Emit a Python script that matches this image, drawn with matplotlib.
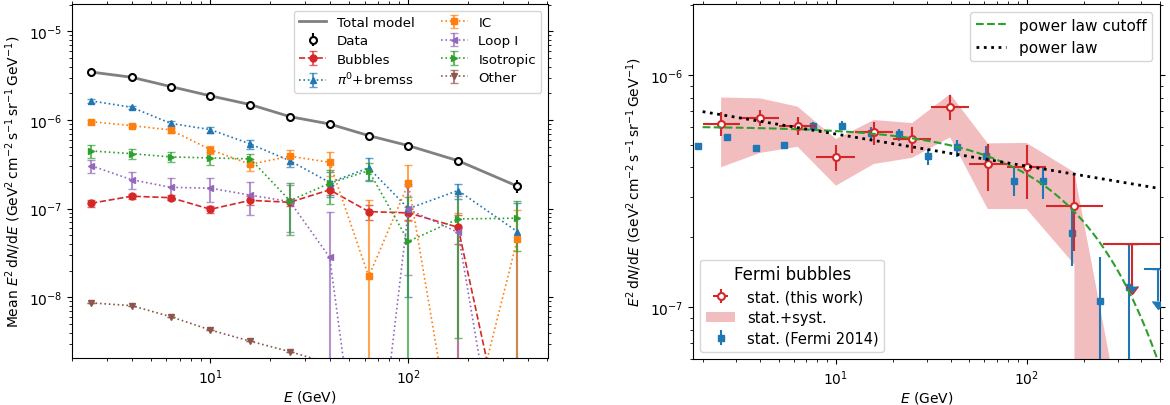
import numpy as np
import matplotlib as mpl
mpl.use("Agg")
import matplotlib.pyplot as plt
from matplotlib.colors import to_rgba
from matplotlib.patches import Patch

mpl.rcParams.update({"font.family": "DejaVu Sans", "font.size": 10})

# ---- left panel: template fit components ----
E = [2.5, 4.0, 6.3, 10.0, 15.9, 25.2, 40.0, 63.0, 100.0, 178.0, 355.0]
TOTAL = [3.47e-6, 3.03e-6, 2.38e-6, 1.87e-6, 1.49e-6, 1.09e-6, 9.0e-7, 6.66e-7, 5.13e-7, 3.47e-7, 1.79e-7]
DATA = [3.47e-6, 3.03e-6, 2.38e-6, 1.87e-6, 1.49e-6, 1.09e-6, 9.0e-7, 6.66e-7, 5.13e-7, 3.47e-7, 1.79e-7]
DATA_ERR = [3e-8, 3e-8, 2e-8, 1.5e-8, 1.2e-8, 1e-8, 9e-9, 8e-9, 8e-9, 1.2e-8, 3e-8]

BUBBLES = [1.15e-7, 1.38e-7, 1.33e-7, 9.84e-8, 1.24e-7, 1.18e-7, 1.63e-7, 9.26e-8, 8.95e-8, 6.17e-8, 5e-11]
BUBBLES_ERR = [1e-8, 8e-9, 8e-9, 1e-8, 1.5e-8, 1.2e-8, 2e-8, 1.8e-8, 1.6e-8, 2.2e-8, 0]
PI0 = [1.64e-6, 1.39e-6, 9.15e-7, 7.78e-7, 5.36e-7, 3.47e-7, 1.97e-7, 2.88e-7, 1.0e-7, 1.6e-7, 5.5e-8]
PI0_ERR = [7e-8, 6e-8, 6e-8, 6e-8, 6e-8, 5e-8, 6e-8, 8.5e-8, 9e-8, 3.2e-8, 6e-8]
IC = [9.57e-7, 8.63e-7, 7.71e-7, 4.63e-7, 3.16e-7, 3.9e-7, 3.33e-7, 1.72e-8, 1.93e-7, 1e-10, 4.57e-8]
IC_ERR = [5e-8, 4e-8, 5e-8, 4.5e-8, 5e-8, 7e-8, 1e-7, 1.08e-7, 1.2e-7, 9e-8, 5e-8]
LOOP = [3.05e-7, 2.12e-7, 1.74e-7, 1.7e-7, 1.42e-7, 1.2e-7, 2.83e-8, 1.5e-11, 9.8e-8, 5.4e-8, 6e-12]
LOOP_ERR = [5e-8, 4.5e-8, 5e-8, 5e-8, 5.7e-8, 6.5e-8, 6.4e-8, 0, 8e-8, 8.6e-8, 0]
ISO = [4.47e-7, 4.17e-7, 3.83e-7, 3.73e-7, 3.64e-7, 1.23e-7, 1.93e-7, 2.68e-7, 4.28e-8, 7.65e-8, 7.8e-8]
ISO_ERR = [7e-8, 5e-8, 5e-8, 6e-8, 5e-8, 7.2e-8, 8e-8, 5.6e-8, 9.2e-8, 7.3e-8, 4.5e-8]
OTHER = [8.65e-9, 8.06e-9, 6.05e-9, 4.28e-9, 3.2e-9, 2.44e-9, 1.8e-9, 1.26e-9, 9e-10, 6.3e-10, 4e-10]
OTHER_ERR = [0] * 11

COMPONENTS = [
    ("Bubbles", BUBBLES, BUBBLES_ERR, "o", "--", "tab:red"),
    (r"$\pi^0$+bremss", PI0, PI0_ERR, "^", ":", "tab:blue"),
    ("IC", IC, IC_ERR, "s", ":", "tab:orange"),
    ("Loop I", LOOP, LOOP_ERR, "<", ":", "tab:purple"),
    ("Isotropic", ISO, ISO_ERR, ">", ":", "tab:green"),
    ("Other", OTHER, OTHER_ERR, "v", ":", "tab:brown"),
]

# ---- right panel: bubbles spectrum ----
E_FB = [2.5, 4.0, 6.3, 10.0, 15.8, 25.1, 39.7, 62.5, 100.0, 178.0]
E_FB_LO = [2.0, 3.15, 5.0, 7.9, 12.6, 20.0, 31.6, 50.0, 79.0, 126.0]
E_FB_HI = [3.15, 5.0, 7.9, 12.6, 20.0, 31.6, 50.0, 79.0, 126.0, 251.0]
FB = [6.15e-7, 6.51e-7, 6.05e-7, 4.45e-7, 5.66e-7, 5.3e-7, 7.31e-7, 4.14e-7, 4.01e-7, 2.74e-7]
FB_LO = [5.48e-7, 6.05e-7, 5.52e-7, 3.88e-7, 5.0e-7, 4.6e-7, 6.4e-7, 3.18e-7, 2.94e-7, 1.75e-7]
FB_HI = [6.9e-7, 7.07e-7, 6.58e-7, 5.0e-7, 6.3e-7, 6.0e-7, 8.2e-7, 5.05e-7, 5.0e-7, 3.75e-7]

SYS_E = [2.5, 4.0, 6.3, 10.0, 15.8, 25.1, 39.7, 62.5, 100.0, 178.0, 355.0]
SYS_LO = [4.01e-7, 4.62e-7, 4.91e-7, 3.34e-7, 4.14e-7, 4.4e-7, 5.39e-7, 2.65e-7, 2.65e-7, 1.53e-7, 0.0]
SYS_HI = [8.0e-7, 7.93e-7, 7.31e-7, 5.3e-7, 6.4e-7, 6.21e-7, 8.28e-7, 5.08e-7, 5.1e-7, 3.81e-7, 1.93e-8]

UL_E, UL_E_LO, UL_E_HI = 355.0, 251.0, 501.0
UL_VAL, UL_END = 1.88e-7, 1.24e-7

E_F14 = [1.88, 2.67, 3.79, 5.36, 7.6, 10.8, 15.2, 21.5, 30.5, 43.0, 60.9, 86.3, 121.6, 172.6, 242.0, 343.0]
F14 = [4.93e-7, 5.42e-7, 4.83e-7, 5.0e-7, 6.05e-7, 6.05e-7, 5.61e-7, 5.57e-7, 4.5e-7, 4.88e-7,
       4.47e-7, 3.51e-7, 3.51e-7, 2.08e-7, 1.07e-7, 1.23e-7]
F14_LO = [4.8e-7, 5.26e-7, 4.65e-7, 4.8e-7, 5.82e-7, 5.82e-7, 5.26e-7, 5.21e-7, 4.1e-7, 4.43e-7,
          4.01e-7, 3.02e-7, 2.94e-7, 1.51e-7, 0.0, 0.0]
F14_HI = [5.05e-7, 5.57e-7, 5.01e-7, 5.17e-7, 6.29e-7, 6.35e-7, 5.96e-7, 5.86e-7, 4.8e-7, 5.26e-7,
          4.97e-7, 4.01e-7, 4.07e-7, 2.63e-7, 1.64e-7, 1.85e-7]
F14_UL_E, F14_UL_E_LO, F14_UL_E_HI = 490.0, 414.0, 580.0
F14_UL_VAL, F14_UL_END = 1.46e-7, 1.07e-7

# fitted models (E^2 dN/dE at 10 GeV, photon index, cutoff)
PL_NORM, PL_INDEX = 5.57e-7, 2.138
PLC_NORM, PLC_INDEX, PLC_CUT = 6.02e-7, 2.0, 210.0
FIT_RANGE = (2.0, 490.0)


def upper_limit(ax, e, lo, hi, val, end, color, z):
    # horizontal bin bar, then a downward arrow
    ax.errorbar([e], [val], xerr=[[e - lo], [hi - e]], fmt="none", ecolor=color, lw=1.5,
                capsize=0, zorder=z)
    ax.errorbar([e], [val], yerr=[[val - end], [0]], uplims=True, fmt="none", ecolor=color,
                lw=1.5, capsize=4, zorder=z)


fig = plt.figure(figsize=(11.7, 4.06), dpi=100)
ax1 = fig.add_axes([0.0615, 0.1158, 0.4068, 0.8719])
ax2 = fig.add_axes([0.5923, 0.1133, 0.3991, 0.8744])

# left
ax1.plot(E, TOTAL, color="gray", lw=2, label="Total model", zorder=3)
ax1.errorbar(E, DATA, yerr=DATA_ERR, fmt="o", mfc="white", mec="black", mew=1.5, ms=5,
             ecolor="black", elinewidth=1.5, label="Data", zorder=4)
for name, vals, err, mk, ls, c in COMPONENTS:
    ax1.errorbar(E, vals, yerr=err, marker=mk, ls=ls, color=c, ms=5, lw=1.2, capsize=3,
                 ecolor=to_rgba(c, 0.7), elinewidth=1.5, label=name)
ax1.set_xscale("log")
ax1.set_yscale("log")
ax1.set_xlim(2.0, 506)
ax1.set_ylim(2.07e-9, 2.03e-5)
ax1.tick_params(which="both", top=True, right=True)
ax1.set_xlabel(r"$E$ (GeV)", labelpad=1)
ax1.set_ylabel(r"Mean $E^2\,\mathrm{d}N/\mathrm{d}E$ (GeV$^2\,$cm$^{-2}\,$s$^{-1}\,$sr$^{-1}\,$GeV$^{-1}$)")
ax1.legend(loc="upper right", ncol=2, fontsize=9.6, labelspacing=0.4)

# right
red = "tab:red"
ax2.fill_between(SYS_E, SYS_LO, SYS_HI, color=red, alpha=0.3, lw=0)
fb = np.array(FB)
e_fb = np.array(E_FB)
h_fb = ax2.errorbar(E_FB, FB,
                    xerr=[e_fb - np.array(E_FB_LO), np.array(E_FB_HI) - e_fb],
                    yerr=[fb - np.array(FB_LO), np.array(FB_HI) - fb],
                    fmt="o", color=red, mfc="white", mec=red, mew=1.5, ms=5, lw=1.5, zorder=5)
upper_limit(ax2, UL_E, UL_E_LO, UL_E_HI, UL_VAL, UL_END, red, 5)
f14 = np.array(F14)
h_f14 = ax2.errorbar(E_F14, F14, yerr=[f14 - np.array(F14_LO), np.array(F14_HI) - f14],
                     fmt="s", color="tab:blue", ms=4, lw=1.5, zorder=4)
upper_limit(ax2, F14_UL_E, F14_UL_E_LO, F14_UL_E_HI, F14_UL_VAL, F14_UL_END, "tab:blue", 4)

ee = np.geomspace(*FIT_RANGE, 200)
plc = PLC_NORM * (ee / 10.0) ** (2 - PLC_INDEX) * np.exp(-ee / PLC_CUT)
pl = PL_NORM * (ee / 10.0) ** (2 - PL_INDEX)
l1, = ax2.plot(ee, plc, "--", color="tab:green", lw=1.5, label="power law cutoff", zorder=6)
l2, = ax2.plot(ee, pl, ":", color="black", lw=2, label="power law", zorder=6)

ax2.set_xscale("log")
ax2.set_yscale("log")
ax2.set_xlim(1.78, 500)
ax2.set_ylim(6.0e-8, 2.02e-6)
ax2.tick_params(which="both", top=True, right=True)
ax2.set_xlabel(r"$E$ (GeV)", labelpad=1)
ax2.set_ylabel(r"$E^2\,\mathrm{d}N/\mathrm{d}E$ (GeV$^2\,$cm$^{-2}\,$s$^{-1}\,$sr$^{-1}\,$GeV$^{-1}$)")

leg_fit = ax2.legend(handles=[l1, l2], loc="upper right", fontsize=11)
ax2.add_artist(leg_fit)
ax2.legend(handles=[h_fb, Patch(color=red, alpha=0.3, lw=0), h_f14],
           labels=["stat. (this work)", "stat.+syst.", "stat. (Fermi 2014)"],
           loc="lower left", title="Fermi bubbles", fontsize=10.5, title_fontsize=12,
           labelspacing=0.4)

fig.savefig("out.png", dpi=100)
